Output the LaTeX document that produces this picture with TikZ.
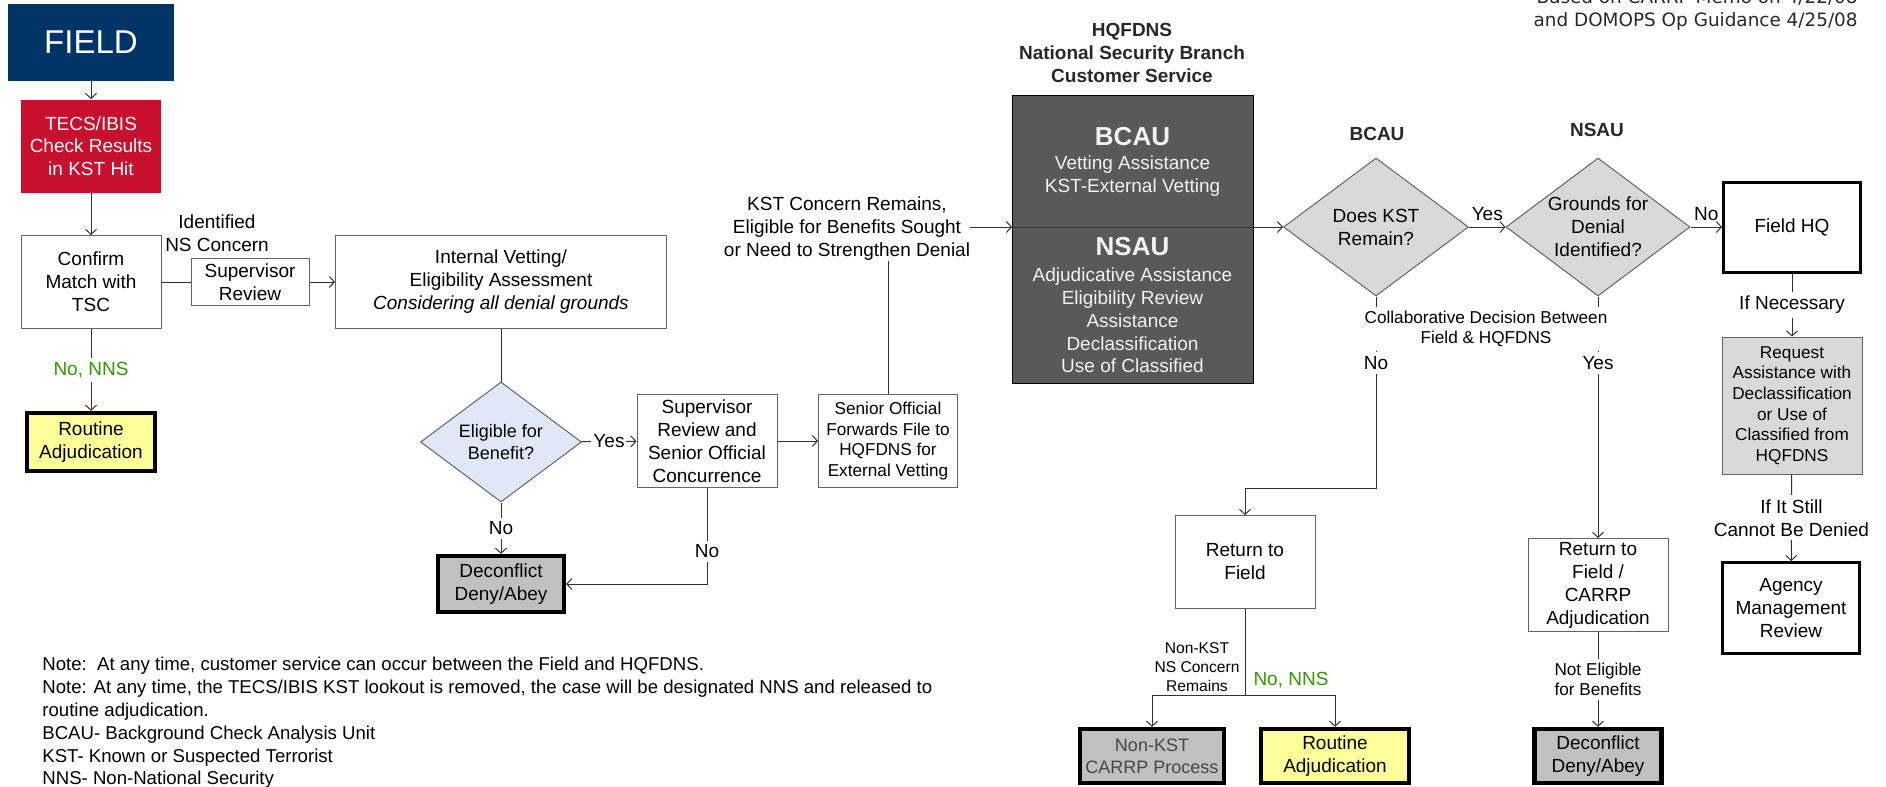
\documentclass[tikz,border=0pt]{standalone}
\usepackage{fontspec}
\setmainfont{Liberation Sans}
\newfontfamily\memofont{DejaVu Sans}
\usetikzlibrary{shapes.geometric,arrows.meta}

\definecolor{fieldblue}{RGB}{0,51,102}
\definecolor{hitred}{RGB}{200,16,46}
\definecolor{hqgray}{RGB}{89,89,89}
\definecolor{hqtext}{RGB}{242,242,242}
\definecolor{querygray}{RGB}{217,217,217}
\definecolor{denygray}{RGB}{192,192,192}
\definecolor{routineyellow}{RGB}{255,255,153}
\definecolor{eligblue}{RGB}{224,231,246}
\definecolor{nnsgreen}{RGB}{51,153,0}
\definecolor{boxgray}{RGB}{100,100,100}
\definecolor{linegray}{RGB}{50,50,50}
\definecolor{headgray}{RGB}{40,40,40}
\definecolor{carrptext}{RGB}{70,70,70}

\newcommand{\boxfont}{\fontsize{9.5pt}{11.5pt}\selectfont}
\newcommand{\smallfont}{\fontsize{8.6pt}{10.3pt}\selectfont}

\tikzset{
  every node/.style={font=\boxfont, align=center, inner sep=0pt},
  stepbox/.style={draw=boxgray, fill=white, line width=0.5pt, minimum width=70pt, minimum height=46.5pt},
  endbox/.style={draw=black, line width=2.2pt, minimum height=27pt},
  query/.style={diamond, draw=boxgray, aspect=1.34, line width=0.5pt},
  lbl/.style={fill=white, inner sep=2pt},
  link/.style={draw=linegray, line width=0.5pt},
  >={Straight Barb[length=2.5pt,width=5.5pt]}
}

\begin{document}
\begin{tikzpicture}[x=0.5pt, y=-0.5pt]
  \useasboundingbox (0,0) rectangle (1886,787);

  % field side
  \node[fill=fieldblue, minimum width=83pt, minimum height=38.5pt, text=white,
        font=\fontsize{16.5pt}{18pt}\selectfont] (field) at (91,42) {FIELD};
  \node[fill=hitred, minimum width=70pt, minimum height=46.5pt, text=white,
        font=\fontsize{9.5pt}{11.25pt}\selectfont] (hit) at (91,146) {TECS/IBIS\\Check Results\\in KST Hit};
  \node[stepbox] (confirm) at (91,282) {Confirm\\Match with\\TSC};
  \node (concern) at (217,233) {Identified\\NS Concern};
  \node[stepbox, minimum width=59pt, minimum height=23.5pt] (suprev) at (250,282) {Supervisor\\Review};
  \node[stepbox, minimum width=165.5pt] (vetting) at (501,282)
    {Internal Vetting/\\Eligibility Assessment\\\textit{Considering all denial grounds}};
  \node[endbox, fill=routineyellow, minimum width=64pt, minimum height=29pt] (routine) at (91,442) {Routine\\Adjudication};
  \node[query, fill=eligblue, minimum width=80.5pt, minimum height=60pt,
        font=\fontsize{9pt}{11pt}\selectfont] (eligible) at (501,442) {Eligible for\\Benefit?};
  \node[stepbox] (supcon) at (707,441) {Supervisor\\Review and\\Senior Official\\Concurrence};
  \node[stepbox, minimum width=69.5pt, font=\smallfont] (forward) at (888,441)
    {Senior Official\\Forwards File to\\HQFDNS for\\External Vetting};
  \node[endbox, fill=denygray, minimum width=63pt, minimum height=28pt] (deny) at (501,584) {Deconflict\\Deny/Abey};

  \draw[link, ->] (field) -- (hit);
  \draw[link, ->] (hit) -- (confirm);
  \draw[link] (confirm) -- (suprev);
  \draw[link, ->] (suprev) -- (vetting);
  \draw[link, ->] (confirm) -- node[lbl, text=nnsgreen] (nns) {No, NNS} (routine);
  \draw[link] (vetting) -- (eligible);
  \draw[link, ->] (eligible) -- node[lbl, inner sep=1pt] (yes) {Yes} (supcon);
  \draw[link, ->] (eligible) -- node[lbl] (no) {No} (deny);
  \draw[link, ->] (supcon) |- node[lbl, pos=0.33] (nob) {No} (deny);
  \draw[link, ->] (supcon) -- (forward);

  % hq side
  \node (kst) at (847,229) {KST Concern Remains,\\Eligible for Benefits Sought\\or Need to Strengthen Denial};
  \node[font=\boxfont\bfseries, text=headgray] (hqhead) at (1132,53)
    {HQFDNS\\National Security Branch\\Customer Service};
  \node[draw=black, fill=hqgray, minimum width=120.5pt, minimum height=144pt] (hq) at (1132.5,239) {};
  \node[text=hqtext, font=\fontsize{13pt}{15pt}\selectfont\bfseries] (bcautitle) at (1132.5,137) {BCAU};
  \node[text=hqtext] (bcaulist) at (1132.5,176) {Vetting Assistance\\KST-External Vetting};
  \node[text=hqtext, font=\fontsize{13pt}{15pt}\selectfont\bfseries] (nsautitle) at (1132.5,247) {NSAU};
  \node[text=hqtext, font=\fontsize{9.5pt}{11.4pt}\selectfont] (nsaulist) at (1132.5,320.5)
    {Adjudicative Assistance\\Eligibility Review\\Assistance\\Declassification\\Use of Classified};
  \coordinate (hqin) at (1012,227);

  \node[font=\boxfont\bfseries, text=headgray] (bcaulbl) at (1377,134) {BCAU};
  \node[font=\boxfont\bfseries, text=headgray] (nsaulbl) at (1597,130) {NSAU};
  \node[query, fill=querygray, minimum width=92.5pt, minimum height=69pt] (remain) at (1376,227) {Does KST\\Remain?};
  \node[query, fill=querygray, minimum width=92pt, minimum height=69pt] (grounds) at (1598,227) {Grounds for\\Denial\\Identified?};
  \node[stepbox, draw=black, line width=1.5pt, minimum width=68.5pt, minimum height=45pt] (fieldhq) at (1792,227) {Field HQ};
  \node[stepbox, fill=querygray, minimum height=68.5pt, font=\smallfont] (request) at (1792,405.5)
    {Request\\Assistance with\\Declassification\\or Use of\\Classified from\\HQFDNS};
  \node[stepbox, draw=black, line width=1.5pt, minimum width=68.5pt, minimum height=45.5pt] (agency) at (1791,608)
    {Agency\\Management\\Review};
  \node[stepbox] (retfield) at (1245,562) {Return to\\Field};
  \node[stepbox] (retcarrp) at (1598,585) {Return to\\Field /\\CARRP\\Adjudication};
  \node[endbox, fill=denygray, text=carrptext, minimum width=72pt, font=\fontsize{9pt}{11pt}\selectfont] (nonkst) at (1152,756)
    {Non-KST\\CARRP Process};
  \node[endbox, fill=routineyellow, minimum width=74pt] (routineb) at (1335,756) {Routine\\Adjudication};
  \node[endbox, fill=denygray, minimum width=63.5pt] (denyb) at (1598,756) {Deconflict\\Deny/Abey};
  \coordinate (nobend) at (1376,488);
  \coordinate (split) at (1245,695);

  \draw[link] (forward) -- (forward |- kst.south);
  \draw[link, ->] (kst.east |- hqin) -- (hqin);
  \draw[link, ->] (hqin) -- (remain);
  \draw[link, ->] (remain) -- node[above=3pt] (yesb) {Yes} (grounds);
  \draw[link, ->] (grounds) -- node[above=3pt] (noc) {No} (fieldhq);
  \draw[link, ->] (fieldhq) -- node[lbl] (ifnec) {If Necessary} (request);
  \draw[link, ->] (request) -- node[lbl] (still) {If It Still\\Cannot Be Denied} (agency);
  \draw[link, ->] (remain) -- (nobend) -| (retfield);
  \draw[link, ->] (grounds) -- (retcarrp);
  \node[lbl, font=\smallfont] (collab) at (1486,329) {Collaborative Decision Between\\Field \& HQFDNS};
  \node[lbl] (nod) at (1376,363) {No};
  \node[lbl] (yesc) at (1598,363) {Yes};
  \draw[link] (retfield) -- (split);
  \draw[link, ->] (split) -| (nonkst);
  \draw[link, ->] (split) -| (routineb);
  \node[font=\fontsize{7.8pt}{9.5pt}\selectfont] (nonkstlbl) at (1197,667) {Non-KST\\NS Concern\\Remains};
  \node[text=nnsgreen] (nnsb) at (1291,680) {No, NNS};
  \draw[link, ->] (retcarrp) -- node[lbl, font=\smallfont] (noteligible) {Not Eligible\\for Benefits} (denyb);

  % notes
  \node[anchor=north west, align=left, font=\fontsize{9.3pt}{11.4pt}\selectfont] (notes) at (42,657)
    {Note:~~At any time, customer service can occur between the Field and HQFDNS.\\
     Note: At any time, the TECS/IBIS KST lookout is removed, the case will be designated NNS and released to\\
     routine adjudication.\\
     BCAU- Background Check Analysis Unit\\
     KST- Known or Suspected Terrorist\\
     NNS- Non-National Security};
  \node[anchor=south east, align=right, text=headgray, font=\memofont\fontsize{9.2pt}{11.5pt}\selectfont] (memo) at (1858,31)
    {Based on CARRP Memo on 4/22/08\\and DOMOPS Op Guidance 4/25/08};
\end{tikzpicture}
\end{document}
